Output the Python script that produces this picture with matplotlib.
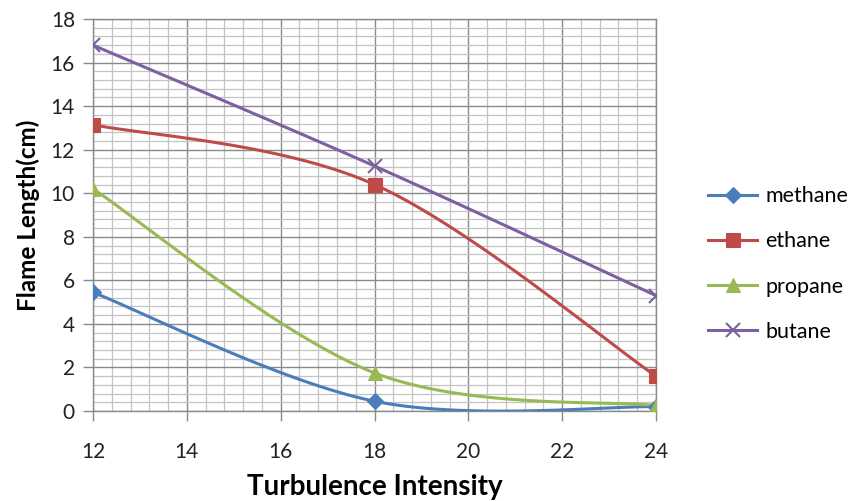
import numpy as np
import matplotlib
matplotlib.use("Agg")
import matplotlib.pyplot as plt
from matplotlib.ticker import MultipleLocator

turbulence = [12, 18, 24]
methane = [5.45, 0.45, 0.2]
ethane = [13.15, 10.4, 1.6]
propane = [10.2, 1.75, 0.25]
butane = [16.8, 11.25, 5.3]

series_names = ["methane", "ethane", "propane", "butane"]
series_values = [methane, ethane, propane, butane]
colors = ["#4A7EBB", "#BE4B48", "#98B954", "#7D60A0"]
markers = ["D", "s", "^", "x"]
msizes = [8.5, 10.5, 10.5, 10.5]

plt.rcParams['font.family'] = ['Lato', 'DejaVu Sans']


def smooth(xs, ys, n=60):
    pts = np.column_stack([xs, ys]).astype(float)
    m = len(pts)
    out = []
    for i in range(m - 1):
        p0 = pts[max(i - 1, 0)]
        p1 = pts[i]
        p2 = pts[i + 1]
        p3 = pts[min(i + 2, m - 1)]
        c1 = p1 + (p2 - p0) / 6.0
        c2 = p2 - (p3 - p1) / 6.0
        t = np.linspace(0, 1, n)[:, None]
        seg = ((1 - t) ** 3) * p1 + 3 * ((1 - t) ** 2) * t * c1 + 3 * (1 - t) * t ** 2 * c2 + t ** 3 * p2
        if i > 0:
            seg = seg[1:]
        out.append(seg)
    out = np.vstack(out)
    return out[:, 0], out[:, 1]


fig = plt.figure(figsize=(8.57, 5.01), dpi=100)
ax = fig.add_axes([0.1085, 0.1796, 0.657, 0.7824])

for name, vals, c, mk, ms in zip(series_names, series_values, colors, markers, msizes):
    sx, sy = smooth(turbulence, vals)
    ax.plot(sx, sy, color=c, lw=2.2, zorder=3, solid_capstyle='round')
    ax.plot(turbulence, vals, linestyle='none', marker=mk, color=c, markersize=ms,
            markeredgewidth=1.5 if mk == 'x' else 0.8, zorder=4)
    ax.plot([], [], color=c, lw=2.2, marker=mk, markersize=ms,
            markeredgewidth=1.5 if mk == 'x' else 0.8, label=name)

ax.set_xlim(12, 24)
ax.set_ylim(0, 18)
ax.xaxis.set_major_locator(MultipleLocator(2))
ax.xaxis.set_minor_locator(MultipleLocator(0.4))
ax.yaxis.set_major_locator(MultipleLocator(2))
ax.yaxis.set_minor_locator(MultipleLocator(0.4))
ax.grid(which='major', color='#8a8a8a', lw=1.0, zorder=0)
ax.grid(which='minor', color='#c4c4c4', lw=0.9, zorder=0)
ax.set_axisbelow(True)
for s in ax.spines.values():
    s.set_color('#8a8a8a')
    s.set_linewidth(1.0)
ax.tick_params(axis='both', which='major', direction='out', length=7, width=1,
               color='#8a8a8a', labelsize=15, labelcolor='#222222')
ax.tick_params(axis='x', which='major', pad=15)
ax.tick_params(axis='y', which='major', pad=6)
ax.tick_params(which='minor', length=0)

ax.set_xlabel("Turbulence Intensity", fontsize=20, fontweight='bold', labelpad=9)
ax.set_ylabel("Flame Length(cm)", fontsize=17.5, fontweight='bold', labelpad=8)

leg = fig.legend(loc='upper left', bbox_to_anchor=(0.804, 0.667), frameon=False,
                 fontsize=15.5, handlelength=2.25, labelspacing=1.17, handletextpad=0.4)

fig.savefig("out.png", dpi=100)
